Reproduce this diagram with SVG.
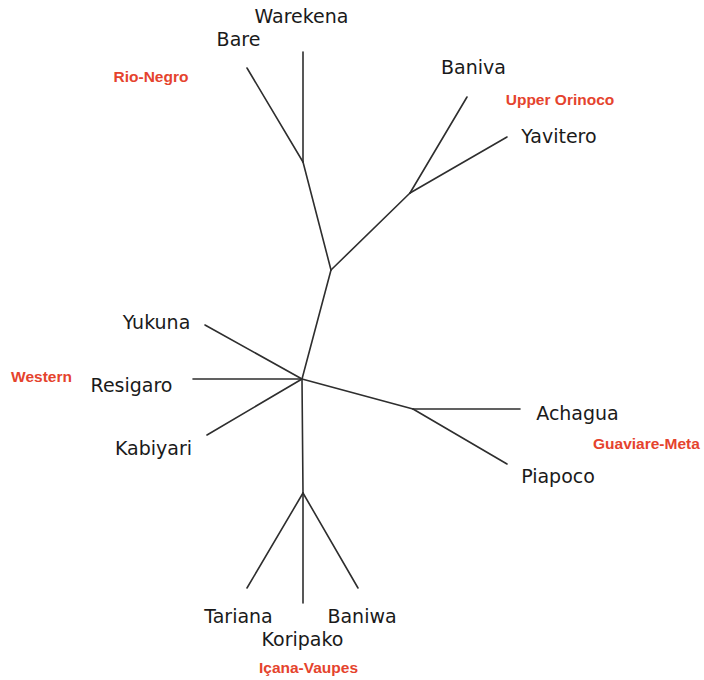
<svg xmlns="http://www.w3.org/2000/svg" width="704" height="680" viewBox="0 0 704 680">
<style>
.e{stroke:#2e2e2e;stroke-width:1.6;fill:none;stroke-linecap:round}
.t{font-family:"DejaVu Sans",sans-serif;font-size:19px;fill:#1a1a1a;text-anchor:middle}
.g{font-family:"Liberation Sans",Arial,sans-serif;font-weight:bold;font-size:15.5px;fill:#e5432d;text-anchor:middle}
</style>
<rect width="704" height="680" fill="#fff"/>
<g id="connectors">
<line class="e" x1="303" y1="52" x2="303" y2="162"/>
<line class="e" x1="247" y1="68" x2="303" y2="162"/>
<line class="e" x1="303" y1="162" x2="331" y2="270"/>
<line class="e" x1="331" y1="270" x2="410" y2="193"/>
<line class="e" x1="410" y1="193" x2="467" y2="97"/>
<line class="e" x1="410" y1="193" x2="507" y2="137"/>
<line class="e" x1="331" y1="270" x2="302" y2="379"/>
<line class="e" x1="302" y1="379" x2="205" y2="325"/>
<line class="e" x1="302" y1="379" x2="193" y2="379"/>
<line class="e" x1="302" y1="379" x2="207" y2="435"/>
<line class="e" x1="302" y1="379" x2="413" y2="409"/>
<line class="e" x1="413" y1="409" x2="520" y2="409"/>
<line class="e" x1="413" y1="409" x2="507" y2="464"/>
<line class="e" x1="302" y1="379" x2="303" y2="493"/>
<line class="e" x1="303" y1="493" x2="247" y2="588"/>
<line class="e" x1="303" y1="493" x2="303" y2="603"/>
<line class="e" x1="303" y1="493" x2="358" y2="588"/>
</g>
<g id="Warekena"><text class="t" x="301.5" y="23">Warekena</text></g>
<g id="Bare"><text class="t" x="238.5" y="46">Bare</text></g>
<g id="Baniva"><text class="t" x="473.5" y="74">Baniva</text></g>
<g id="Yavitero"><text class="t" x="559" y="143">Yavitero</text></g>
<g id="Yukuna"><text class="t" x="156.5" y="329">Yukuna</text></g>
<g id="Resigaro"><text class="t" x="131.5" y="392">Resigaro</text></g>
<g id="Kabiyari"><text class="t" x="153.5" y="455">Kabiyari</text></g>
<g id="Achagua"><text class="t" x="577.5" y="420">Achagua</text></g>
<g id="Piapoco"><text class="t" x="558" y="483">Piapoco</text></g>
<g id="Tariana"><text class="t" x="238.5" y="623">Tariana</text></g>
<g id="Baniwa"><text class="t" x="362" y="623">Baniwa</text></g>
<g id="Koripako"><text class="t" x="302.5" y="646">Koripako</text></g>
<g id="Rio-Negro"><text class="g" x="151" y="82">Rio-Negro</text></g>
<g id="Upper-Orinoco"><text class="g" x="560" y="105">Upper Orinoco</text></g>
<g id="Western"><text class="g" x="41.5" y="382">Western</text></g>
<g id="Guaviare-Meta"><text class="g" x="593" y="449" style="text-anchor:start">Guaviare-Meta</text></g>
<g id="Icana-Vaupes"><text class="g" x="308.5" y="673">Içana-Vaupes</text></g>
</svg>
